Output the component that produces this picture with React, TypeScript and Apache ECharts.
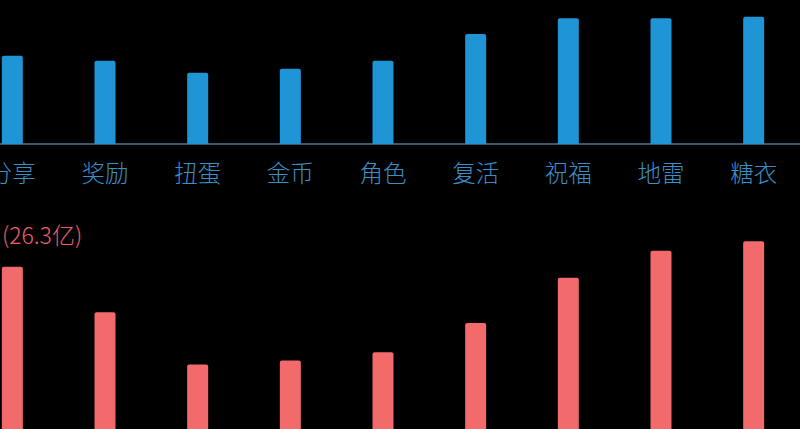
import { useEffect, useRef } from "react";
import * as echarts from "echarts";

const categories = ["分享", "奖励", "扭蛋", "金币", "角色", "复活", "祝福", "地雷", "糖衣"];
// upper (blue) series, relative scale 0-100
const blueValues = [61.3, 57.8, 49.5, 52.3, 57.8, 76.4, 87.3, 87.3, 88.4];
// lower (red) series, relative scale 0-100
const redValues = [75.3, 58.4, 39.1, 40.6, 43.6, 54.4, 71.2, 81.2, 84.7];
const redNote = "(26.3亿)";

const FONT = "'Noto Sans CJK SC', 'Noto Sans', sans-serif";

export default function App() {
  const ref = useRef<HTMLDivElement>(null);

  useEffect(() => {
    if (!ref.current) return;
    const chart = echarts.init(ref.current, null, { renderer: "svg" });
    chart.setOption({
      backgroundColor: "#000000",
      animation: false,
      textStyle: { fontFamily: FONT },
      title: {
        text: redNote,
        left: 36,
        top: 222,
        padding: 0,
        textStyle: { color: "#e8606a", fontSize: 23, fontWeight: 300, fontFamily: FONT },
      },
      grid: [
        { left: 0, right: 0, top: 0, height: 144 },
        { left: 0, right: 0, top: 200, height: 270 },
      ],
      xAxis: [
        {
          type: "category",
          gridIndex: 0,
          data: categories,
          axisLine: { lineStyle: { color: "#4f7694", width: 1.5 } },
          axisTick: { alignWithLabel: true, length: 4, lineStyle: { color: "#8aa4ba" } },
          axisLabel: { color: "#3d8fc8", fontSize: 23.5, fontWeight: 300, margin: 16, fontFamily: FONT },
        },
        {
          type: "category",
          gridIndex: 1,
          data: categories,
          show: false,
        },
      ],
      yAxis: [
        { type: "value", gridIndex: 0, min: 0, max: 100, show: false },
        { type: "value", gridIndex: 1, min: 0, max: 100, show: false },
      ],
      series: [
        {
          type: "bar",
          xAxisIndex: 0,
          yAxisIndex: 0,
          data: blueValues,
          barWidth: 21,
          itemStyle: { color: "#1f95d5", borderRadius: [2, 2, 0, 0] },
        },
        {
          type: "bar",
          xAxisIndex: 1,
          yAxisIndex: 1,
          data: redValues,
          barWidth: 21,
          itemStyle: { color: "#f26a6a", borderRadius: [2, 2, 0, 0] },
        },
      ],
    });
    return () => chart.dispose();
  }, []);

  return (
    <div style={{ position: "fixed", inset: 0, overflow: "hidden", background: "#000" }}>
      <div ref={ref} style={{ position: "absolute", left: -34, top: 0, width: 834, height: 480 }} />
    </div>
  );
}
